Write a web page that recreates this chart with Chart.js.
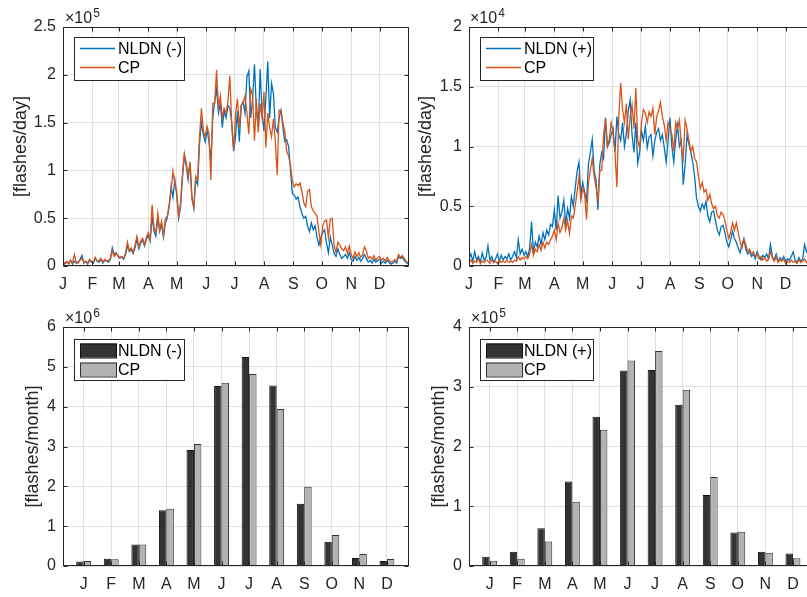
<!DOCTYPE html>
<html>
<head>
<meta charset="utf-8">
<script src="https://cdn.jsdelivr.net/npm/chart.js@4.4.1/dist/chart.umd.min.js"></script>
<style>
html, body { margin: 0; padding: 0; background: #fff; overflow: hidden; width: 807px; height: 597px; }
canvas { position: absolute; }
</style>
</head>
<body>
<canvas id="dailyNeg" width="410" height="297" style="left:0;top:0"></canvas>
<canvas id="dailyPos" width="410" height="297" style="left:410px;top:0"></canvas>
<canvas id="monthlyNeg" width="410" height="300" style="left:0;top:297px"></canvas>
<canvas id="monthlyPos" width="410" height="300" style="left:410px;top:297px"></canvas>
<script>
const monthLabels = ["J", "F", "M", "A", "M", "J", "J", "A", "S", "O", "N", "D"];
const monthStartDays = [0, 31, 59, 90, 120, 151, 181, 212, 243, 273, 304, 334];

// daily flashes, one value every 2nd day of the year (negative in 1e5, positive in 1e4)
const nldnNegDaily = [
  0.05,0.02,0.04,0.03,0.06,0.02,0.05,0.03,0.04,0.07,
  0.11,0.03,0.05,0.02,0.06,0.04,0.03,0.08,0.05,0.04,
  0.07,0.03,0.06,0.05,0.04,0.07,0.19,0.12,0.14,0.10,
  0.08,0.10,0.07,0.12,0.21,0.15,0.17,0.13,0.19,0.28,
  0.18,0.24,0.27,0.21,0.28,0.32,0.26,0.52,0.36,0.31,
  0.50,0.36,0.44,0.30,0.45,0.50,0.62,0.83,0.72,0.90,
  0.74,0.50,0.62,0.92,1.15,1.05,0.90,1.08,0.72,0.60,
  0.90,0.85,1.28,1.50,1.38,1.30,1.42,1.30,1.10,1.55,
  1.72,1.85,1.60,1.70,1.45,1.62,1.55,1.68,1.65,1.50,
  1.20,1.35,1.62,1.30,1.68,1.72,1.60,1.98,2.04,1.55,
  1.75,2.11,1.62,1.45,2.06,1.60,1.41,1.75,2.14,1.55,
  1.91,1.80,1.45,1.40,1.55,1.63,1.45,1.30,1.32,1.25,
  1.00,0.76,0.74,0.70,0.72,0.62,0.55,0.50,0.52,0.42,
  0.36,0.45,0.38,0.42,0.30,0.22,0.30,0.35,0.38,0.24,
  0.14,0.30,0.22,0.13,0.10,0.18,0.12,0.08,0.10,0.12,
  0.08,0.14,0.07,0.05,0.10,0.06,0.09,0.05,0.08,0.12,
  0.08,0.04,0.06,0.03,0.07,0.04,0.06,0.07,0.03,0.05,
  0.03,0.06,0.04,0.02,0.03,0.05,0.03,0.10,0.08,0.09,
  0.06,0.04,0.02
];
const cpNegDaily = [
  0.04,0.03,0.05,0.02,0.06,0.03,0.12,0.04,0.03,0.06,
  0.08,0.04,0.05,0.03,0.07,0.05,0.04,0.09,0.05,0.06,
  0.08,0.04,0.07,0.05,0.06,0.08,0.16,0.10,0.13,0.11,
  0.09,0.10,0.08,0.14,0.25,0.16,0.19,0.14,0.22,0.31,
  0.20,0.26,0.29,0.22,0.30,0.35,0.28,0.64,0.40,0.35,
  0.55,0.38,0.47,0.32,0.50,0.52,0.64,0.78,0.99,0.86,
  0.78,0.52,0.66,0.96,1.18,1.08,0.94,1.09,0.70,0.62,
  0.94,0.90,1.35,1.65,1.42,1.35,1.46,1.38,0.90,1.70,
  1.70,2.05,1.66,1.78,1.55,1.65,1.60,1.72,1.99,1.48,
  1.22,1.58,1.75,1.45,1.68,1.70,1.78,1.60,1.38,1.85,
  1.79,1.31,1.75,1.40,1.70,1.55,1.82,1.24,1.60,1.45,
  1.35,1.54,1.30,0.95,1.63,1.62,1.50,1.40,1.20,1.15,
  1.05,0.88,0.83,0.86,0.84,0.87,0.78,0.66,0.62,0.78,
  0.80,0.62,0.58,0.55,0.52,0.35,0.22,0.42,0.47,0.48,
  0.30,0.49,0.50,0.22,0.14,0.25,0.22,0.18,0.16,0.20,
  0.13,0.21,0.12,0.08,0.15,0.10,0.14,0.09,0.12,0.20,
  0.16,0.08,0.10,0.07,0.11,0.06,0.09,0.10,0.06,0.08,
  0.05,0.09,0.06,0.04,0.05,0.07,0.05,0.12,0.09,0.11,
  0.08,0.05,0.03
];
const nldnPosDaily = [
  0.06,0.10,0.04,0.12,0.05,0.08,0.03,0.11,0.05,0.07,
  0.17,0.05,0.08,0.03,0.06,0.10,0.04,0.09,0.05,0.08,
  0.06,0.10,0.05,0.08,0.12,0.07,0.22,0.10,0.14,0.09,
  0.12,0.08,0.15,0.37,0.12,0.20,0.16,0.25,0.18,0.28,
  0.22,0.30,0.26,0.35,0.33,0.47,0.30,0.59,0.40,0.45,
  0.55,0.35,0.48,0.40,0.58,0.50,0.65,0.79,0.87,0.60,
  0.70,0.62,0.55,0.85,0.95,1.06,0.80,0.72,0.47,0.85,
  0.95,0.90,1.24,1.00,1.03,1.10,1.15,0.95,1.25,1.10,
  1.05,1.20,1.00,1.11,1.30,1.39,1.10,0.95,1.20,0.86,
  0.95,1.13,1.05,1.17,0.99,1.08,1.10,0.92,1.05,1.12,
  1.15,1.05,1.10,0.99,0.87,1.05,1.24,1.00,0.87,1.05,
  1.18,1.00,1.05,0.68,0.85,1.10,1.02,0.95,0.87,0.75,
  0.57,0.50,0.46,0.52,0.48,0.54,0.42,0.37,0.45,0.46,
  0.38,0.30,0.26,0.33,0.34,0.28,0.20,0.16,0.22,0.29,
  0.23,0.20,0.15,0.11,0.18,0.23,0.14,0.10,0.12,0.08,
  0.10,0.06,0.12,0.08,0.05,0.09,0.07,0.10,0.06,0.18,
  0.08,0.05,0.10,0.04,0.07,0.05,0.08,0.04,0.06,0.05,
  0.08,0.12,0.05,0.03,0.07,0.04,0.06,0.18,0.12,0.15,
  0.14,0.10,0.12
];
const cpPosDaily = [
  0.03,0.05,0.02,0.04,0.03,0.06,0.02,0.04,0.03,0.05,
  0.04,0.02,0.05,0.03,0.04,0.02,0.05,0.03,0.04,0.03,
  0.05,0.03,0.04,0.03,0.05,0.04,0.08,0.05,0.07,0.06,
  0.08,0.06,0.10,0.18,0.09,0.14,0.12,0.18,0.13,0.20,
  0.15,0.20,0.18,0.22,0.25,0.30,0.22,0.36,0.28,0.32,
  0.40,0.30,0.38,0.27,0.42,0.40,0.50,0.62,0.75,0.55,
  0.65,0.60,0.39,0.70,0.80,0.90,0.75,0.66,0.55,0.80,
  0.80,1.10,1.23,1.00,1.06,1.20,1.11,0.95,0.66,1.25,
  1.53,1.31,1.20,1.36,1.06,1.25,1.35,1.15,1.49,1.05,
  0.99,1.20,1.31,1.28,1.20,1.29,1.25,1.32,1.10,1.25,
  1.30,1.37,1.25,1.18,1.05,1.20,1.15,1.10,0.96,1.20,
  1.15,1.22,1.00,0.90,1.22,1.15,1.05,0.96,1.00,0.90,
  0.87,0.75,0.65,0.70,0.62,0.64,0.55,0.60,0.52,0.48,
  0.50,0.42,0.40,0.45,0.43,0.38,0.30,0.23,0.28,0.36,
  0.30,0.36,0.28,0.20,0.15,0.22,0.18,0.12,0.14,0.10,
  0.12,0.08,0.10,0.06,0.08,0.05,0.07,0.04,0.06,0.12,
  0.07,0.04,0.08,0.03,0.05,0.04,0.06,0.02,0.04,0.03,
  0.05,0.03,0.04,0.02,0.05,0.03,0.04,0.06,0.03,0.05,
  0.04,0.06,0.07
];

// monthly totals (negative in 1e6, positive in 1e5)
const nldnNegMonthly = [0.11, 0.18, 0.54, 1.40, 2.91, 4.52, 5.25, 4.53, 1.56, 0.61, 0.20, 0.125];
const cpNegMonthly = [0.125, 0.17, 0.54, 1.44, 3.06, 4.60, 4.82, 3.94, 1.99, 0.78, 0.30, 0.175];
const nldnPosMonthly = [0.156, 0.24, 0.63, 1.415, 2.50, 3.27, 3.28, 2.70, 1.19, 0.56, 0.24, 0.21];
const cpPosMonthly = [0.089, 0.12, 0.41, 1.075, 2.28, 3.44, 3.60, 2.95, 1.49, 0.575, 0.22, 0.13];

const BLUE = "#0072bd", ORANGE = "#d95319", AXIS = "#262626", GRID = "#e0e0e0";
const FONT = "'Liberation Sans', Arial, Helvetica, sans-serif";

// matlab style box, inward ticks, exponent, y title and legend
const frame = {
    id: "frame",
    afterDatasetsDraw(chart, args, o) {
        const ctx = chart.ctx, a = chart.chartArea, xs = chart.scales.x, ys = chart.scales.y;
        const L = Math.round(a.left) + 0.5, R = Math.round(a.right) - 0.5;
        const T = Math.round(a.top) + 0.5, B = Math.round(a.bottom) - 0.5;
        ctx.save();
        ctx.strokeStyle = AXIS;
        ctx.lineWidth = 1;
        ctx.beginPath();
        xs.ticks.forEach(t => {
            const px = Math.round(xs.getPixelForValue(t.value)) + 0.5;
            ctx.moveTo(px, B); ctx.lineTo(px, B - 4);
            ctx.moveTo(px, T); ctx.lineTo(px, T + 4);
        });
        ys.ticks.forEach(t => {
            const py = Math.round(ys.getPixelForValue(t.value)) + 0.5;
            ctx.moveTo(L, py); ctx.lineTo(L + 4, py);
            ctx.moveTo(R, py); ctx.lineTo(R - 4, py);
        });
        ctx.stroke();
        ctx.strokeRect(L, T, R - L, B - T);

        // exponent
        ctx.fillStyle = AXIS;
        ctx.textBaseline = "alphabetic";
        ctx.textAlign = "left";
        ctx.font = "16px " + FONT;
        ctx.fillText("\u00d710", a.left + o.expDx, a.top - 4);
        const w = ctx.measureText("\u00d710").width;
        ctx.font = "12px " + FONT;
        ctx.fillText(o.exponent, a.left + o.expDx + w + 1, a.top - 10);

        // y title
        ctx.save();
        ctx.translate(o.titleX, (a.top + a.bottom) / 2);
        ctx.rotate(-Math.PI / 2);
        ctx.textAlign = "center";
        ctx.textBaseline = "middle";
        ctx.font = "18px " + FONT;
        ctx.fillText(o.title, 0, 0);
        ctx.restore();

        // legend
        const lg = o.legend;
        ctx.fillStyle = "#fff";
        ctx.fillRect(lg.x, lg.y, lg.w, lg.h);
        ctx.strokeStyle = AXIS;
        ctx.strokeRect(lg.x + 0.5, lg.y + 0.5, lg.w, lg.h);
        chart.data.datasets.forEach((ds, i) => {
            const cy = lg.y + 11.5 + i * 19;
            if (lg.kind === "line") {
                ctx.strokeStyle = ds.borderColor;
                ctx.lineWidth = 1.5;
                ctx.beginPath();
                ctx.moveTo(lg.x + 6, cy);
                ctx.lineTo(lg.x + 41, cy);
                ctx.stroke();
            } else {
                ctx.fillStyle = ds.backgroundColor;
                ctx.fillRect(lg.x + 6, cy - 7, 37, 14);
                ctx.strokeStyle = ds.borderColor;
                ctx.lineWidth = 1;
                ctx.strokeRect(lg.x + 6.5, cy - 6.5, 36, 14);
            }
            ctx.fillStyle = "#000";
            ctx.font = "16px " + FONT;
            ctx.textAlign = "left";
            ctx.textBaseline = "middle";
            ctx.fillText(ds.label, lg.x + 44, cy + 1);
        });
        ctx.restore();
    }
};

const tickFont = { family: FONT, size: 16 };

function dailyChart(id, names, blue, orange, yMax, opts) {
    const days = blue.map((_, i) => i * 2);
    return new Chart(document.getElementById(id), {
        type: "line",
        data: {
            datasets: [
                { label: names[0], data: blue.map((v, i) => ({ x: days[i], y: v })), borderColor: BLUE, borderWidth: 1.3, pointRadius: 0, order: 1 },
                { label: names[1], data: orange.map((v, i) => ({ x: days[i], y: v })), borderColor: ORANGE, borderWidth: 1.3, pointRadius: 0, order: 0 },
            ],
        },
        options: {
            responsive: false,
            animation: false,
            devicePixelRatio: 1,
            layout: { padding: { top: 27, right: opts.right, left: 0, bottom: 0 } },
            plugins: {
                legend: { display: false },
                tooltip: { enabled: false },
                frame: opts.frame,
            },
            scales: {
                x: {
                    type: "linear", min: 0, max: 365,
                    afterBuildTicks: s => { s.ticks = monthStartDays.map(v => ({ value: v })); },
                    afterFit: s => { s.height = 31; },
                    ticks: { callback: (v, i) => monthLabels[i], autoSkip: false, maxRotation: 0, padding: 9, color: AXIS, font: tickFont },
                    grid: { color: GRID, drawTicks: false },
                    border: { display: false },
                },
                y: {
                    min: 0, max: yMax,
                    afterFit: s => { s.width = opts.left; },
                    ticks: { stepSize: 0.5, callback: v => String(Math.round(v * 10) / 10), padding: 7, color: AXIS, font: tickFont },
                    grid: { color: GRID, drawTicks: false },
                    border: { display: false },
                },
            },
        },
        plugins: [frame],
    });
}

function monthlyChart(id, names, dark, light, yMax, opts) {
    return new Chart(document.getElementById(id), {
        type: "bar",
        data: {
            datasets: [
                { label: names[0], data: dark.map((v, i) => ({ x: i + 1, y: v })), backgroundColor: "#333333", borderColor: "#111111", borderWidth: 1 },
                { label: names[1], data: light.map((v, i) => ({ x: i + 1, y: v })), backgroundColor: "#b3b3b3", borderColor: "#333333", borderWidth: 1 },
            ],
        },
        options: {
            responsive: false,
            animation: false,
            devicePixelRatio: 1,
            categoryPercentage: 0.54,
            barPercentage: 1,
            layout: { padding: { top: 30, right: opts.right, left: 0, bottom: 0 } },
            plugins: {
                legend: { display: false },
                tooltip: { enabled: false },
                frame: opts.frame,
            },
            scales: {
                x: {
                    type: "linear", min: 0.25, max: 12.8, offset: false,
                    afterBuildTicks: s => { s.ticks = monthLabels.map((_, i) => ({ value: i + 1 })); },
                    afterFit: s => { s.height = 31; },
                    ticks: { callback: (v, i) => monthLabels[i], autoSkip: false, maxRotation: 0, padding: 9, color: AXIS, font: tickFont },
                    grid: { color: GRID, drawTicks: false, offset: false },
                    border: { display: false },
                },
                y: {
                    min: 0, max: yMax,
                    afterFit: s => { s.width = opts.left; },
                    ticks: { stepSize: 1, padding: 7, color: AXIS, font: tickFont },
                    grid: { color: GRID, drawTicks: false },
                    border: { display: false },
                },
            },
        },
        plugins: [frame],
    });
}

dailyChart("dailyNeg", ["NLDN (-)", "CP"], nldnNegDaily, cpNegDaily, 2.5, {
    left: 63, right: 1,
    frame: { exponent: "5", expDx: 2, title: "[flashes/day]", titleX: 21, legend: { x: 74, y: 37, w: 110, h: 43, kind: "line" } },
});
dailyChart("dailyPos", ["NLDN (+)", "CP"], nldnPosDaily, cpPosDaily, 2, {
    left: 59, right: 5,
    frame: { exponent: "4", expDx: 1, title: "[flashes/day]", titleX: 16, legend: { x: 70, y: 37, w: 113, h: 43, kind: "line" } },
});
monthlyChart("monthlyNeg", ["NLDN (-)", "CP"], nldnNegMonthly, cpNegMonthly, 6, {
    left: 63, right: 1,
    frame: { exponent: "6", expDx: 2, title: "[flashes/month]", titleX: 33, legend: { x: 74, y: 42, w: 110, h: 41, kind: "bar" } },
});
monthlyChart("monthlyPos", ["NLDN (+)", "CP"], nldnPosMonthly, cpPosMonthly, 4, {
    left: 59, right: 5,
    frame: { exponent: "5", expDx: 2, title: "[flashes/month]", titleX: 29, legend: { x: 70, y: 42, w: 113, h: 41, kind: "bar" } },
});
</script>
</body>
</html>
